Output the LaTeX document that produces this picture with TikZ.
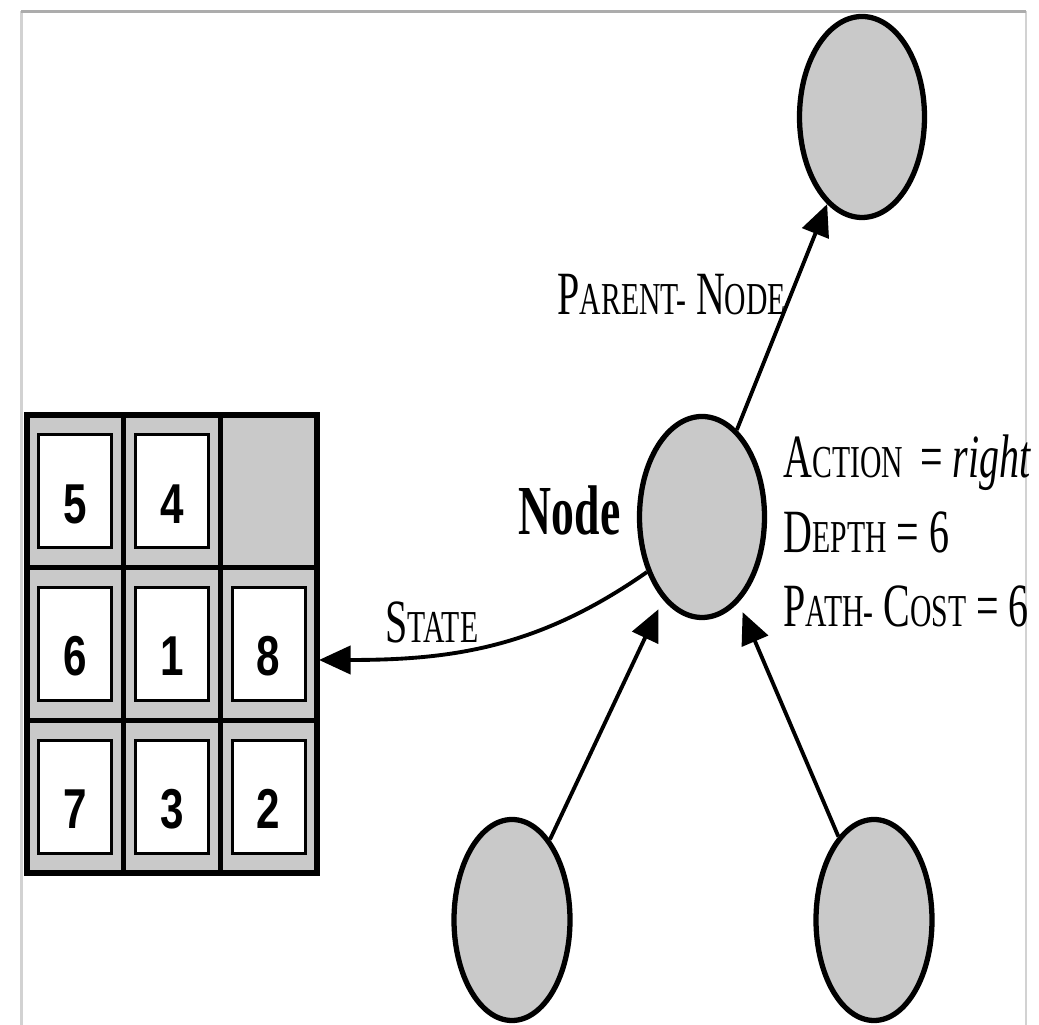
\documentclass[tikz,border=0pt]{standalone}
\usepackage{fontspec}
\setmainfont{Liberation Serif}[FakeStretch=0.65]
\newfontfamily\tilefont{Liberation Sans}[FakeStretch=0.75]
\usetikzlibrary{arrows.meta,shapes.geometric}
\definecolor{cellgray}{gray}{0.79}
\newcommand{\capword}[2]{{\fontsize{17.5}{20}\selectfont #1}{\fontsize{13}{15}\selectfont #2}}
\tikzset{
  treenode/.style={ellipse, draw, line width=1.5pt, fill=cellgray, inner sep=0pt,
    minimum width=1.25cm, minimum height=2.01cm},
  linkln/.style={-{Triangle[length=9pt,width=8pt]}, line width=1.1pt},
  gridln/.style={line width=1.3pt},
  boardln/.style={line width=1.9pt, line join=miter},
  tile/.style={draw, line width=0.9pt, fill=white, inner sep=0pt,
    minimum width=0.73cm, minimum height=1.13cm, text height=0.64cm, text depth=0pt,
    font=\tilefont\bfseries\fontsize{16}{16}\selectfont},
  infotxt/.style={anchor=base west, inner sep=0pt, font=\fontsize{17.5}{20}\selectfont},
}
\begin{document}
\begin{tikzpicture}
        \useasboundingbox (0,0) rectangle (10.39,10.25);
        % page frame
        \draw[gray!35, line width=0.8pt] (0.215,0) -- (0.215,10.135);
        \draw[gray!35, line width=0.8pt] (10.26,0) -- (10.26,10.135);
        \draw[gray!65, line width=1pt] (0.215,10.135) -- (10.26,10.135);
        % the 8-puzzle board
        \fill[cellgray] (0.27,1.52) rectangle (3.17,6.10);
        \foreach \x in {1.237,2.203}
          \draw[gridln] (\x,1.52) -- (\x,6.10);
        \foreach \y in {3.047,4.573}
          \draw[gridln] (0.27,\y) -- (3.17,\y);
        \draw[boardln] (0.27,1.52) rectangle (3.17,6.10);
        \foreach \c/\r/\n in {0/0/5,1/0/4,0/1/6,1/1/1,2/1/8,0/2/7,1/2/3,2/2/2}
          \node[tile] (t\c\r) at ({0.753+0.9667*\c},{5.337-1.5267*\r}) {\n};
        % search tree nodes
        \node[treenode] (nd) at (7.02,5.08) {};
        \node[treenode] (par) at (8.62,9.08) {};
        \node[treenode, minimum width=1.16cm] (kid1) at (5.12,1.05) {};
        \node[treenode, minimum width=1.16cm] (kid2) at (8.74,1.05) {};
        \draw[linkln] (nd) -- (par);
        \draw[linkln, shorten >=3pt] (kid1) -- (nd);
        \draw[linkln, shorten >=3pt] (kid2) -- (nd);
        \coordinate (stip) at (3.19,3.65);
        \draw[linkln] (nd.225) to[out=215, in=0] (stip);
        % labels
        \node[anchor=base east, inner sep=0pt, font=\bfseries\fontsize{20}{24}\selectfont]
          (ndlbl) at (6.21,4.90) {Node};
        \node[infotxt] (parlbl) at (5.57,7.10) {\capword{P}{ARENT-} \capword{N}{ODE}};
        \node[infotxt] (stlbl) at (3.85,3.82) {\capword{S}{TATE}};
        \node[infotxt] (act) at (7.83,5.47) {\capword{A}{CTION}\hspace{2pt} = \textit{right}};
        \node[infotxt] (dep) at (7.83,4.72) {\capword{D}{EPTH} = 6};
        \node[infotxt] (cst) at (7.83,3.98) {\capword{P}{ATH-} \capword{C}{OST} = 6};
      \end{tikzpicture}
\end{document}
